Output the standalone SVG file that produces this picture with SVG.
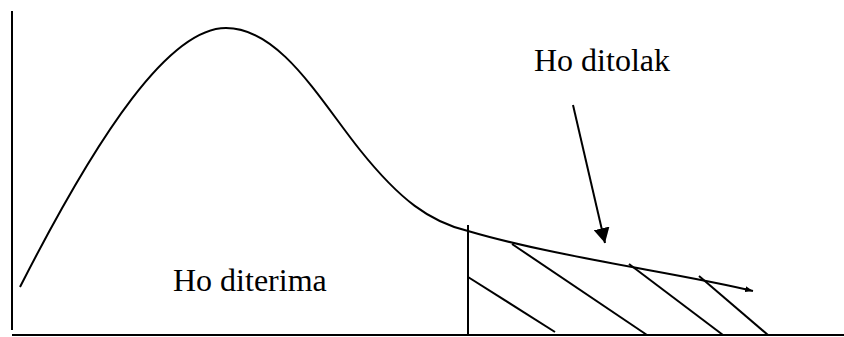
<svg xmlns="http://www.w3.org/2000/svg" width="844" height="337" viewBox="0 0 844 337">
<style>
.ln{stroke:#000;stroke-width:2;fill:none}
.t{font-family:"Liberation Serif","Times New Roman",serif;font-size:32px;fill:#000}
</style>
<defs>
<marker id="big" markerUnits="userSpaceOnUse" markerWidth="16" markerHeight="16" refX="15" refY="8" orient="auto">
<path d="M0,0 L15,8 L0,16 Z" fill="#000"/>
</marker>
<marker id="small" markerUnits="userSpaceOnUse" markerWidth="8" markerHeight="6" refX="8" refY="3" orient="auto">
<path d="M0,0 L8,3 L0,6 Z" fill="#000"/>
</marker>
</defs>
<g id="axes">
<line class="ln" x1="12" y1="11" x2="12" y2="330"/>
<line class="ln" x1="12" y1="335" x2="844" y2="335"/>
</g>
<g id="curve">
<path class="ln" d="M20,287 C100,130 170,28 226,28 C280,28 320,100 360,150 C400,200 430,222 468,231 C560,258 680,273 753,291" marker-end="url(#small)"/>
</g>
<g id="region">
<line class="ln" x1="468" y1="225" x2="468" y2="335"/>
<line class="ln" x1="468" y1="277" x2="555" y2="332"/>
<line class="ln" x1="512" y1="244" x2="647" y2="335"/>
<line class="ln" x1="629" y1="264" x2="723" y2="335"/>
<line class="ln" x1="699" y1="276" x2="768" y2="335"/>
</g>
<g id="connectors">
<line class="ln" x1="573" y1="105" x2="605" y2="243" marker-end="url(#big)"/>
</g>
<g id="labels">
<text class="t" x="173" y="291">Ho diterima</text>
<text class="t" x="534" y="71">Ho ditolak</text>
</g>
</svg>
